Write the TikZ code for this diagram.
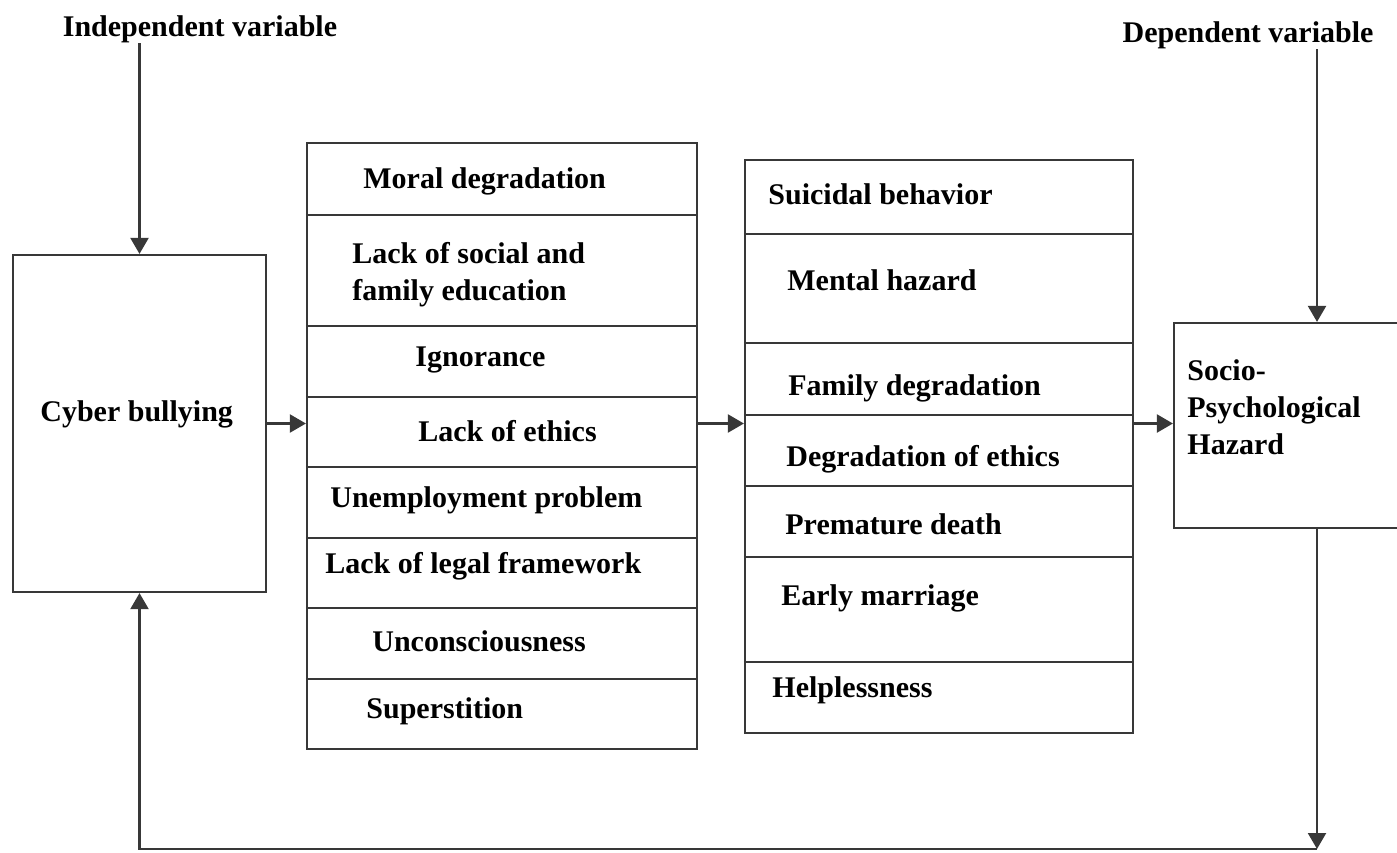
\documentclass[tikz,border=0pt]{standalone}
\usepackage{fontspec}
\setmainfont{Liberation Serif}
\usetikzlibrary{arrows.meta,fit}

\begin{document}
\begin{tikzpicture}[x=0.5pt, y=-0.5pt,
    box/.style={draw=black!78, line width=1.1pt, inner sep=0pt},
    rule/.style={draw=black!78, line width=1.1pt},
    arr/.style={draw=black!78, line width=1.1pt, -{Triangle[length=8pt,width=9pt]}},
    lbl/.style={anchor=west, inner sep=0pt, align=left, font=\bfseries\fontsize{15}{18.5}\selectfont}]
\path[use as bounding box, clip] (0,0) rectangle (1397,852);

\node[box, fit={(13,255) (266,592)}] (cyber) {};
\node[box, fit={(307,143) (697,749)}] (causes) {};
\node[box, fit={(745,160) (1133,733)}] (effects) {};
\node[box, fit={(1174,323) (1420,528)}] (hazard) {};

\foreach \y in {215,326,397,467,538,608,679}
    \draw[rule] (causes.west |- 0,\y) -- (causes.east |- 0,\y);
\foreach \y in {234,343,415,486,557,662}
    \draw[rule] (effects.west |- 0,\y) -- (effects.east |- 0,\y);

\node[lbl, anchor=center] (indep) at (200,29) {Independent variable};
\node[lbl, anchor=center] (dep) at (1248,35) {Dependent variable};
\node[lbl] (cybertxt) at (40,414) {Cyber bullying};

\node[lbl] (moral) at (363,181) {Moral degradation};
\node[lbl] (educ) at (352,275) {Lack of social and\\family education};
\node[lbl] (ignor) at (415,360) {Ignorance};
\node[lbl] (ethics) at (418,431) {Lack of ethics};
\node[lbl] (unemp) at (330,500) {Unemployment problem};
\node[lbl] (legal) at (325,566) {Lack of legal framework};
\node[lbl] (uncon) at (372,641) {Unconsciousness};
\node[lbl] (super) at (366,711) {Superstition};

\node[lbl] (suic) at (768,194) {Suicidal behavior};
\node[lbl] (mental) at (787,280) {Mental hazard};
\node[lbl] (family) at (788,388) {Family degradation};
\node[lbl] (degeth) at (786,459) {Degradation of ethics};
\node[lbl] (death) at (785,524) {Premature death};
\node[lbl] (marr) at (781,598) {Early marriage};
\node[lbl] (help) at (772,690) {Helplessness};

\node[lbl] (hazardtxt) at (1187,407) {Socio-\\Psychological\\Hazard};

\coordinate (drop) at (1317,849);
\draw[arr] (indep.south -| cyber.north) -- (cyber.north);
\draw[arr] (cyber.east) -- (cyber.east -| causes.west);
\draw[arr] (causes.east |- cyber.east) -- (effects.west |- cyber.east);
\draw[arr] (effects.east |- cyber.east) -- (hazard.west |- cyber.east);
\draw[arr] (dep.south -| drop) -- (hazard.north -| drop);
\draw[arr] (hazard.south -| drop) -- (drop);
\draw[arr] (drop) -| (cyber.south);
\end{tikzpicture}
\end{document}
